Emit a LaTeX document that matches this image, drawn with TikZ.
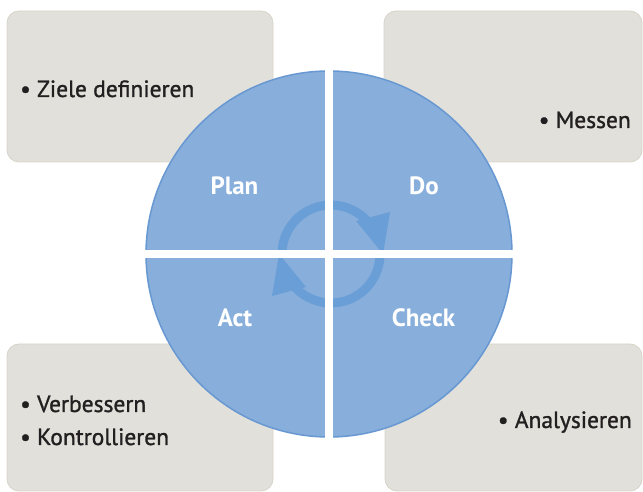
\documentclass[tikz,border=0pt]{standalone}
\usepackage{fontspec}
\setmainfont{PT Sans}
\newfontfamily\itemfont[FakeBold=1.2]{PT Sans}
\usetikzlibrary{calc}
\definecolor{boxfill}{RGB}{225,224,218}
\definecolor{boxline}{RGB}{214,212,200}
\definecolor{circfill}{RGB}{136,174,219}
\definecolor{circline}{RGB}{104,152,210}
\definecolor{ringcol}{RGB}{106,158,214}
\definecolor{txt}{RGB}{35,31,32}
\tikzset{
  infobox/.style={draw=boxline,fill=boxfill,line width=0.8pt,rounded corners=12pt,inner sep=0pt},
  itemtext/.style={text=txt,font=\itemfont\fontsize{23.5}{28}\selectfont,inner sep=0pt},
  phasetext/.style={text=white,font=\bfseries\fontsize{25}{30}\selectfont,inner sep=0pt,anchor=base},
  ringline/.style={draw=ringcol,line width=9pt},
  ringhead/.style={fill=ringcol},
  gap/.style={draw=white,line width=8pt},
}
\begin{document}
\begin{tikzpicture}[x=1pt,y=1pt]
\useasboundingbox (0,0) rectangle (643,492);
% boxes
\node[infobox,minimum width=266pt,minimum height=151pt] (tl) at (140,405.5) {};
\node[infobox,minimum width=258pt,minimum height=151pt] (tr) at (513,405.5) {};
\node[infobox,minimum width=266pt,minimum height=147pt] (bl) at (140,74.5) {};
\node[infobox,minimum width=257pt,minimum height=147pt] (br) at (513.5,74.5) {};
% box texts
\node[itemtext,anchor=base west] (t1) at (20,395) {• Ziele definieren};
\node[itemtext,anchor=base east] (t2) at (631,364) {• Messen};
\node[itemtext,anchor=base west] (t3) at (20,80) {• Verbessern};
\node[itemtext,anchor=base west] (t4) at (20,47) {• Kontrollieren};
\node[itemtext,anchor=base east] (t5) at (632,64) {• Analysieren};
% circle
\node[circle,draw=circline,fill=circfill,line width=1.5pt,minimum size=366pt,inner sep=0pt] (circ) at (329,238) {};
\coordinate (rc) at (331,238);
% ring arrows
\begin{scope}[shift={(rc)}]
  \draw[ringline] (178:49) arc[start angle=178,end angle=38,radius=49];
  \fill[ringhead] (52,0) -- (25,33) -- (59,42) -- cycle;
\end{scope}
\begin{scope}[shift={(rc)},rotate=180]
  \draw[ringline] (178:49) arc[start angle=178,end angle=38,radius=49];
  \fill[ringhead] (52,0) -- (25,33) -- (59,42) -- cycle;
\end{scope}
% white cross
\draw[gap] (circ.north) -- (circ.south);
\draw[gap] (circ.west) -- (circ.east);
% phase labels
\node[phasetext] (plan) at (234.5,297) {Plan};
\node[phasetext] (do) at (424,297) {Do};
\node[phasetext] (act) at (235,165) {Act};
\node[phasetext] (check) at (423.5,165) {Check};
\end{tikzpicture}
\end{document}
